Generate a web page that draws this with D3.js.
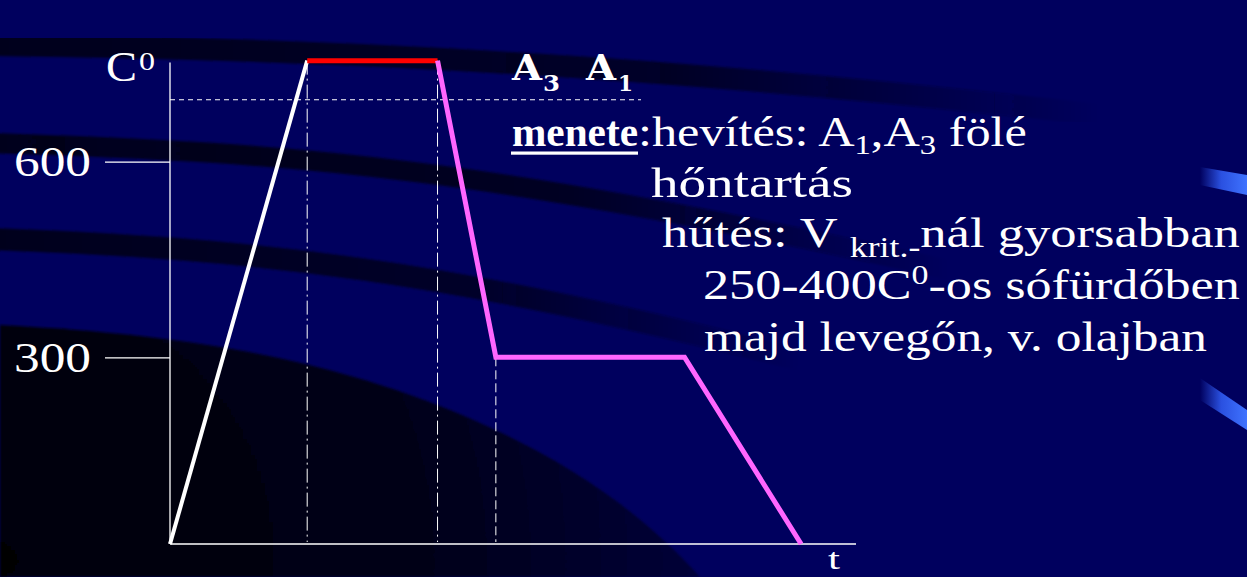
<!DOCTYPE html>
<html><head><meta charset="utf-8">
<script src="https://cdn.jsdelivr.net/npm/d3@7"></script>
<style>html,body{margin:0;padding:0;background:#00005e;overflow:hidden}</style>
</head><body>
<svg id="chart" width="1247" height="577"></svg>
<script>
// ---------------- data ----------------
const timePts = [0, 20, 39, 47.5, 75, 92];          // time (arbitrary units)
const tempPts = [0, 755, 755, 300, 300, 0];          // temperature C°
const segmentPhase = ["heat", "hold", "cool", "cool", "cool"];
const yTickValues = [300, 600];
const yTickLabels = ["300", "600"];
const yAxisTop = 752;
const xAxisEnd = 100;
const a3a1Temp = 695;                 // dashed A3/A1 reference level
const dashDotTimes = [20, 39];        // start / end of holding
const dashedTime = 47.5;              // reaching salt-bath temperature
const dashedTimeTemp = 300;
const yAxisTitle = ["C", "0"];
const xAxisTitle = "t";
const headerLabels = [["A", "3"], ["A", "1"]];
// text lines: arrays of [text, kind]  kind: n = normal, sub, sup
const noteLines = [
  [[":hevítés: A", "n"], ["1", "sub"], [",A", "n"], ["3", "sub"], [" fölé", "n"]],
  [["hőntartás", "n"]],
  [["hűtés: V ", "n"], ["krit.-", "sub2"], ["nál gyorsabban", "n"]],
  [["250-400C", "n"], ["0", "sup"], ["-os sófürdőben", "n"]],
  [["majd levegőn, v. olajban", "n"]]
];
const noteKeyword = "menete";

// ---------------- layout / style ----------------
const W = 1247, H = 577;
const svg = d3.select("#chart");
const x = d3.scaleLinear().domain([0, 100]).range([170, 856]);
const y = d3.scaleLinear().domain([0, 300, 600]).range([544, 357.3, 161.7]);
const phaseStyle = {
  heat: {color: "#ffffff", width: 4},
  hold: {color: "#ff0000", width: 5},
  cool: {color: "#ff66ff", width: 5}
};
const serif = "'Liberation Serif', 'Times New Roman', serif";

// ---------------- background ----------------
const defs = svg.append("defs");
const bandGrad = (id, x1, x2, c) => {
  const g = defs.append("linearGradient").attr("id", id).attr("gradientUnits", "userSpaceOnUse")
    .attr("x1", x1).attr("y1", 0).attr("x2", x2).attr("y2", 0);
  g.append("stop").attr("offset", 0).attr("stop-color", c).attr("stop-opacity", 1);
  g.append("stop").attr("offset", 0.6).attr("stop-color", c).attr("stop-opacity", 0.85);
  g.append("stop").attr("offset", 1).attr("stop-color", c).attr("stop-opacity", 0);
};
bandGrad("b1", 0, 1100, "#00001c");
bandGrad("b2", 0, 950, "#00001a");
bandGrad("b3", 0, 800, "#00001e");
const hl = defs.append("linearGradient").attr("id", "hl").attr("x1", 0).attr("x2", 1).attr("y1", 0).attr("y2", 0);
hl.append("stop").attr("offset", 0).attr("stop-color", "#00005e");
hl.append("stop").attr("offset", 0.45).attr("stop-color", "#2a50e0");
hl.append("stop").attr("offset", 1).attr("stop-color", "#3f73ff");
const dk = defs.append("radialGradient").attr("id", "dk").attr("gradientUnits", "userSpaceOnUse")
  .attr("cx", 0).attr("cy", 560).attr("r", 700);
dk.append("stop").attr("offset", 0).attr("stop-color", "#000006");
dk.append("stop").attr("offset", 0.6).attr("stop-color", "#000018");
dk.append("stop").attr("offset", 1).attr("stop-color", "#000038");
defs.append("filter").attr("id", "soft").append("feGaussianBlur").attr("stdDeviation", 1.2);

const bg = svg.append("g");
bg.append("rect").attr("width", W).attr("height", H).attr("fill", "#00005e");
bg.append("path").attr("d", "M-10,45 C250,48 600,58 1100,115")
  .attr("fill", "none").attr("stroke", "url(#b1)").attr("stroke-width", 22).attr("filter", "url(#soft)");
bg.append("path").attr("d", "M-10,143 C300,152 500,170 950,270")
  .attr("fill", "none").attr("stroke", "url(#b2)").attr("stroke-width", 20).attr("filter", "url(#soft)");
bg.append("path").attr("d", "M-10,239 C250,248 450,270 800,360")
  .attr("fill", "none").attr("stroke", "url(#b3)").attr("stroke-width", 22).attr("filter", "url(#soft)");
bg.append("path").attr("d", "M0,325 C200,335 330,362 450,410 C560,455 640,510 700,577 L0,577 Z")
  .attr("fill", "url(#dk)").attr("filter", "url(#soft)");
bg.append("path").attr("d", "M1200,167 L1247,175 L1247,195 L1200,185 Z").attr("fill", "url(#hl)");
bg.append("path").attr("d", "M1200,378 L1247,410 L1247,430 L1200,400 Z").attr("fill", "url(#hl)");

// ---------------- axes ----------------
const ax = svg.append("g").attr("stroke", "#ffffff");
ax.append("line").attr("x1", x(0)).attr("x2", x(0)).attr("y1", y(0)).attr("y2", y(yAxisTop)).attr("stroke-width", 1.3);
ax.append("line").attr("x1", x(0)).attr("x2", x(xAxisEnd)).attr("y1", y(0)).attr("y2", y(0)).attr("stroke-width", 1.5);

const yAxis = d3.axisLeft(y).tickValues(yTickValues).tickSize(65).tickSizeOuter(0)
  .tickPadding(14).tickFormat((d, i) => yTickLabels[i]);
const yg = svg.append("g").attr("transform", `translate(${x(0)},0)`).call(yAxis);
yg.select(".domain").remove();
yg.selectAll(".tick line").attr("stroke", "#ffffff").attr("stroke-width", 1.2);
yg.selectAll(".tick text").attr("fill", "#ffffff").attr("font-family", serif).attr("font-size", 42)
  .attr("dy", "0.34em").attr("textLength", 77).attr("lengthAdjust", "spacingAndGlyphs");

// helper for stretched text
function putText(parent, parts, px, py, size, target, weight, family) {
  const g = parent.append("g");
  const t = g.append("text").attr("x", 0).attr("y", 0).attr("fill", "#ffffff")
    .attr("font-family", family || serif).attr("font-size", size).attr("font-weight", weight || "normal");
  let shift = 0;
  parts.forEach(([s, k]) => {
    const ts = t.append("tspan").text(s);
    let dy = 0, fs = size;
    if (k === "sub") { fs = size * 0.65; dy = 8; }
    if (k === "sub2") { fs = size * 0.68; dy = 10; }
    if (k === "sup") { fs = size * 0.65; dy = -15; }
    ts.attr("font-size", fs).attr("dy", dy - shift);
    shift = dy;
  });
  const w = t.node().getComputedTextLength();
  const sx = target ? target / w : 1;
  g.attr("transform", `translate(${px},${py}) scale(${sx},1)`);
  return g;
}

const labels = svg.append("g");
putText(labels, [[yAxisTitle[0], "n"]], 106, 81, 43, 31);
putText(labels, [[yAxisTitle[1], "n"]], 139, 70, 26, 16);
putText(labels, [[xAxisTitle, "n"]], 828, 569, 30, 12);

// ---------------- reference lines ----------------
const ref = svg.append("g").attr("stroke", "#ffffff").attr("stroke-width", 1).attr("fill", "none");
ref.append("line").attr("x1", x(0)).attr("x2", 641).attr("y1", y(a3a1Temp)).attr("y2", y(a3a1Temp))
  .attr("stroke-dasharray", "5,4");
ref.selectAll(".dd").data(dashDotTimes).join("line").attr("class", "dd")
  .attr("x1", d => x(d)).attr("x2", d => x(d)).attr("y1", y(tempPts[1])).attr("y2", y(0) - 2)
  .attr("stroke-dasharray", "14,4,2,4");
ref.append("line").attr("x1", x(dashedTime)).attr("x2", x(dashedTime))
  .attr("y1", y(dashedTimeTemp)).attr("y2", y(0) - 2).attr("stroke-dasharray", "9,4");

// ---------------- curve ----------------
const pts = timePts.map((t, i) => [x(t), y(tempPts[i])]);
const curve = svg.append("g").attr("fill", "none").attr("stroke-linecap", "butt");
const line = d3.line();
segmentPhase.forEach((ph, i) => {
  if (ph === "cool") return;
  curve.append("path").attr("d", line([pts[i], pts[i + 1]]))
    .attr("stroke", phaseStyle[ph].color).attr("stroke-width", phaseStyle[ph].width);
});
const coolIdx = segmentPhase.indexOf("cool");
curve.append("path").attr("d", line(pts.slice(coolIdx)))
  .attr("stroke", phaseStyle.cool.color).attr("stroke-width", phaseStyle.cool.width)
  .attr("stroke-linejoin", "miter");

// ---------------- header & notes ----------------
const notes = svg.append("g");
const bold = "'DejaVu Serif', serif";
putText(notes, [[headerLabels[0][0], "n"]], 512, 80, 35, 30, "bold", bold);
putText(notes, [[headerLabels[0][1], "n"]], 543, 91, 23, 17, "bold", bold);
putText(notes, [[headerLabels[1][0], "n"]], 586, 80, 35, 30, "bold", bold);
putText(notes, [[headerLabels[1][1], "n"]], 618, 91, 23, 15, "bold", bold);

putText(notes, [[noteKeyword, "n"]], 512, 146, 42, 126, "bold");
notes.append("rect").attr("x", 511).attr("y", 151.5).attr("width", 127).attr("height", 3.2).attr("fill", "#ffffff");

const noteX = [638, 651, 662, 703, 704];
const noteY = [146, 197, 247, 299, 351];
const noteW = [389, 202, 578, 537, 503];
noteLines.forEach((parts, i) => putText(notes, parts, noteX[i], noteY[i], 42, noteW[i]));
</script>
</body></html>
